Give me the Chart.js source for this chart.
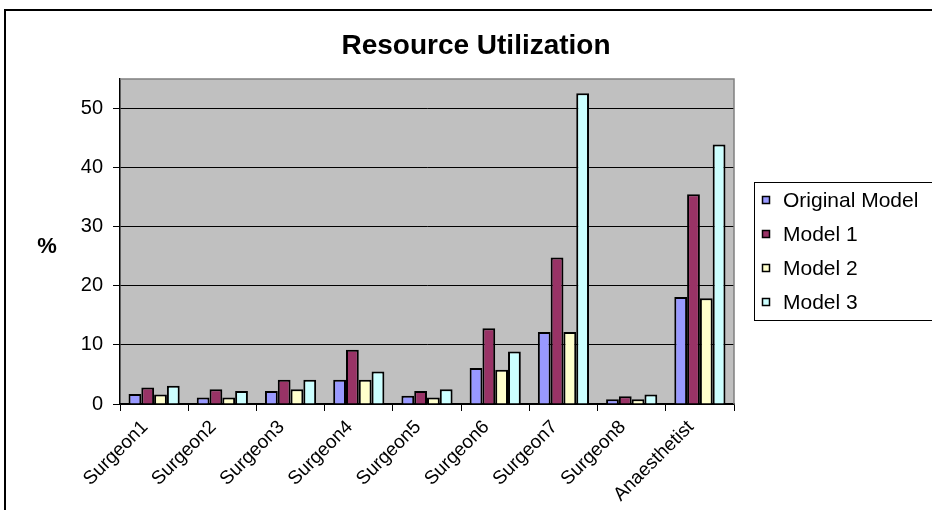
<!DOCTYPE html>
<html>
<head>
<meta charset="utf-8">
<script src="https://cdn.jsdelivr.net/npm/chart.js@4.4.1/dist/chart.umd.min.js"></script>
<style>
  html, body { margin: 0; padding: 0; background: #ffffff; }
  #wrap { width: 932px; height: 510px; position: relative; }
  canvas { display: block; }
</style>
</head>
<body>
<div id="wrap"><canvas id="c" width="932" height="510"></canvas></div>
<script>
// ---- Data ----
const categories = ['Surgeon1', 'Surgeon2', 'Surgeon3', 'Surgeon4', 'Surgeon5', 'Surgeon6', 'Surgeon7', 'Surgeon8', 'Anaesthetist'];
const originalModel = [1.7, 1.1, 2.2, 4.1, 1.4, 6.1, 12.2, 0.8, 18.1];
const model1 = [2.8, 2.5, 4.1, 9.2, 2.2, 12.8, 24.8, 1.3, 35.5];
const model2 = [1.6, 1.1, 2.5, 4.1, 1.1, 5.8, 12.2, 0.8, 17.9];
const model3 = [3.1, 2.2, 4.1, 5.5, 2.5, 8.9, 52.6, 1.6, 43.9];
const seriesNames = ['Original Model', 'Model 1', 'Model 2', 'Model 3'];
const yTicks = [0, 10, 20, 30, 40, 50];
const chartTitle = 'Resource Utilization';
const yAxisTitle = '%';

const FONT = '"Liberation Sans", Arial, sans-serif';
const colors = ['#9999FF', '#993366', '#FFFFCC', '#CCFFFF'];
const seriesData = [originalModel, model1, model2, model3];

const decorPlugin = {
  id: 'decor',
  beforeDraw(chart) {
    const ctx = chart.ctx;
    const a = chart.chartArea;
    ctx.save();
    ctx.fillStyle = '#C0C0C0';
    ctx.fillRect(a.left, a.top, a.right - a.left, a.bottom - a.top);
    ctx.restore();
  },
  afterDraw(chart) {
    const ctx = chart.ctx;
    const a = chart.chartArea;
    ctx.save();
    // plot area top/right border
    ctx.strokeStyle = '#808080';
    ctx.lineWidth = 1.5;
    ctx.beginPath();
    ctx.moveTo(a.left, a.top);
    ctx.lineTo(a.right, a.top);
    ctx.lineTo(a.right, a.bottom);
    ctx.stroke();
    // outer chart border
    ctx.strokeStyle = '#000';
    ctx.lineWidth = 2;
    ctx.beginPath();
    ctx.moveTo(5, 520);
    ctx.lineTo(5, 10);
    ctx.lineTo(940, 10);
    ctx.stroke();
    // title
    ctx.fillStyle = '#000';
    ctx.font = 'bold 28px ' + FONT;
    ctx.textAlign = 'center';
    ctx.textBaseline = 'alphabetic';
    ctx.fillText(chartTitle, 476, 54);
    // y axis title
    ctx.font = 'bold 22px ' + FONT;
    ctx.fillText(yAxisTitle, 47, 253);
    // legend
    ctx.lineWidth = 1;
    ctx.strokeStyle = '#000';
    ctx.strokeRect(754.5, 182.5, 200, 138);
    ctx.font = '21px ' + FONT;
    ctx.textAlign = 'left';
    ctx.textBaseline = 'middle';
    chart.data.datasets.forEach((ds, i) => {
      const cy = 200 + i * 34;
      ctx.fillStyle = ds.backgroundColor;
      ctx.fillRect(762, cy - 4, 8, 8);
      ctx.lineWidth = 1.5;
      ctx.strokeRect(762.5, cy - 3.5, 7, 7);
      ctx.fillStyle = '#000';
      ctx.fillText(ds.label, 783, cy + 1);
    });
    ctx.restore();
  }
};

new Chart(document.getElementById('c'), {
  type: 'bar',
  data: {
    labels: categories,
    datasets: seriesData.map((d, i) => ({
      label: seriesNames[i],
      data: d,
      backgroundColor: colors[i],
      borderColor: '#000',
      borderWidth: 2,
      categoryPercentage: 0.75,
      barPercentage: 1.0
    }))
  },
  options: {
    responsive: false,
    animation: false,
    devicePixelRatio: 1,
    layout: { padding: { top: 79, right: 198, bottom: 0, left: 0 } },
    plugins: {
      legend: { display: false },
      title: { display: false },
      tooltip: { enabled: false }
    },
    scales: {
      x: {
        afterFit(scale) { scale.height = 106; },
        grid: { display: true, drawOnChartArea: false, drawTicks: true, tickLength: 7, tickColor: '#000', offset: true },
        border: { display: true, color: '#000', width: 1.5 },
        ticks: {
          color: '#000',
          font: { family: FONT, size: 19 },
          minRotation: 45,
          maxRotation: 45,
          autoSkip: false,
          labelOffset: -9,
          padding: 5
        }
      },
      y: {
        min: 0,
        max: 55,
        afterFit(scale) { scale.width = 120; },
        afterBuildTicks(scale) { scale.ticks = yTicks.map(v => ({ value: v })); },
        grid: { color: '#000', lineWidth: 1, drawTicks: true, tickLength: 7, tickColor: '#000' },
        border: { display: true, color: '#000', width: 1.5 },
        ticks: {
          color: '#000',
          font: { family: FONT, size: 20 },
          padding: 10
        }
      }
    }
  },
  plugins: [decorPlugin]
});
</script>
</body>
</html>
